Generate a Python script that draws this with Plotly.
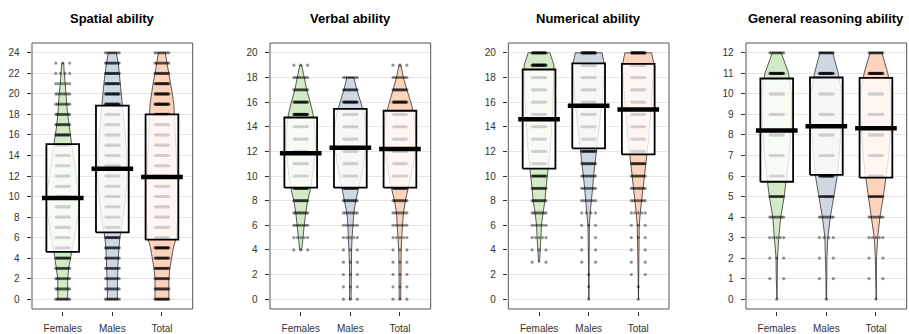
import numpy as np
import plotly.graph_objects as go

# ---------------- data ----------------
groups = ["Females", "Males", "Total"]
titles = ["Spatial ability", "Verbal ability", "Numerical ability", "General reasoning ability"]

# Spatial ability (scores 0-24)
spatial_start = [0, 0, 0]
spatial_density_females = [0.10, 0.10, 0.10, 0.12, 0.16, 0.19, 0.23, 0.27, 0.30, 0.32, 0.32, 0.30,
                           0.28, 0.25, 0.21, 0.18, 0.15, 0.12, 0.10, 0.08, 0.07, 0.05, 0.03, 0.02]
spatial_density_males = [0.10, 0.10, 0.10, 0.11, 0.12, 0.13, 0.15, 0.19, 0.22, 0.25, 0.27, 0.29, 0.30,
                         0.30, 0.29, 0.28, 0.26, 0.24, 0.22, 0.21, 0.19, 0.17, 0.15, 0.12, 0.08]
spatial_density_total = [0.14, 0.14, 0.14, 0.16, 0.19, 0.23, 0.29, 0.31, 0.32, 0.33, 0.33, 0.32, 0.31,
                         0.30, 0.29, 0.28, 0.27, 0.26, 0.25, 0.24, 0.21, 0.18, 0.14, 0.10, 0.07]
spatial_means = [9.85, 12.7, 11.9]
spatial_box_low = [4.6, 6.5, 5.8]
spatial_box_high = [15.1, 18.85, 18.0]
spatial_ticks = [0, 2, 4, 6, 8, 10, 12, 14, 16, 18, 20, 22, 24]

# Verbal ability (scores 0-20)
verbal_start = [4, 0, 0]
verbal_density_females = [0.02, 0.04, 0.07, 0.10, 0.14, 0.20, 0.24, 0.27, 0.29, 0.30, 0.28, 0.25,
                          0.19, 0.12, 0.07, 0.02]
verbal_density_males = [0.015, 0.015, 0.015, 0.02, 0.025, 0.035, 0.05, 0.07, 0.11, 0.17, 0.22, 0.27,
                        0.30, 0.32, 0.31, 0.28, 0.21, 0.13, 0.07]
verbal_density_total = [0.015, 0.015, 0.015, 0.02, 0.025, 0.035, 0.05, 0.07, 0.11, 0.17, 0.22, 0.27,
                        0.31, 0.32, 0.31, 0.28, 0.22, 0.14, 0.07, 0.02]
verbal_means = [11.85, 12.3, 12.2]
verbal_box_low = [9.05, 9.05, 9.05]
verbal_box_high = [14.75, 15.45, 15.3]
verbal_ticks = [0, 2, 4, 6, 8, 10, 12, 14, 16, 18, 20]

# Numerical ability (scores 0-20)
numerical_start = [3, 0, 0]
numerical_density_females = [0.01, 0.02, 0.04, 0.05, 0.08, 0.12, 0.14, 0.17, 0.20, 0.22, 0.24, 0.26,
                             0.27, 0.28, 0.29, 0.30, 0.30, 0.22]
numerical_density_males = [0.005, 0.005, 0.005, 0.007, 0.008, 0.01, 0.015, 0.03, 0.06, 0.08, 0.10,
                           0.13, 0.16, 0.19, 0.22, 0.25, 0.27, 0.29, 0.31, 0.32, 0.27]
numerical_density_total = [0.005, 0.005, 0.006, 0.008, 0.01, 0.015, 0.02, 0.04, 0.07, 0.09, 0.12,
                           0.15, 0.18, 0.21, 0.23, 0.25, 0.27, 0.29, 0.31, 0.32, 0.27]
numerical_means = [14.6, 15.7, 15.4]
numerical_box_low = [10.6, 12.25, 11.75]
numerical_box_high = [18.65, 19.15, 19.1]
numerical_ticks = [0, 2, 4, 6, 8, 10, 12, 14, 16, 18, 20]

# General reasoning ability (scores 0-12)
general_start = [0, 0, 0]
general_density_females = [0.005, 0.01, 0.015, 0.04, 0.08, 0.15, 0.20, 0.25, 0.28, 0.30, 0.30, 0.24, 0.09]
general_density_males = [0.005, 0.008, 0.012, 0.03, 0.08, 0.15, 0.22, 0.26, 0.29, 0.31, 0.31, 0.24, 0.13]
general_density_total = [0.005, 0.008, 0.012, 0.035, 0.08, 0.15, 0.21, 0.26, 0.29, 0.31, 0.31, 0.24, 0.12]
general_means = [8.22, 8.42, 8.33]
general_box_low = [5.72, 6.05, 5.92]
general_box_high = [10.75, 10.8, 10.78]
general_ticks = [0, 1, 2, 3, 4, 5, 6, 7, 8, 9, 10, 11, 12]

panels = [
    dict(start=spatial_start,
         dens=[spatial_density_females, spatial_density_males, spatial_density_total],
         means=spatial_means, lo=spatial_box_low, hi=spatial_box_high, ticks=spatial_ticks),
    dict(start=verbal_start,
         dens=[verbal_density_females, verbal_density_males, verbal_density_total],
         means=verbal_means, lo=verbal_box_low, hi=verbal_box_high, ticks=verbal_ticks),
    dict(start=numerical_start,
         dens=[numerical_density_females, numerical_density_males, numerical_density_total],
         means=numerical_means, lo=numerical_box_low, hi=numerical_box_high, ticks=numerical_ticks),
    dict(start=general_start,
         dens=[general_density_females, general_density_males, general_density_total],
         means=general_means, lo=general_box_low, hi=general_box_high, ticks=general_ticks),
]

# ---------------- style ----------------
W, H = 909, 334
fills = ["rgba(150,205,120,0.42)", "rgba(140,160,185,0.42)", "rgba(250,150,95,0.42)"]
panel_left = [32, 270, 508.3, 746]
panel_width = 160.7
plot_top, plot_bottom = 43, 309
font = "Arial, Liberation Sans, sans-serif"

fig = go.Figure()
layout = dict(width=W, height=H, autosize=False,
              margin=dict(l=0, r=0, t=0, b=0, pad=0, autoexpand=False),
              plot_bgcolor="white", paper_bgcolor="white", showlegend=False,
              font=dict(family=font, size=10, color="#333333"))
annotations = []
shapes = []

for p, pan in enumerate(panels):
    xa = "x" if p == 0 else f"x{p+1}"
    ya = "y" if p == 0 else f"y{p+1}"
    for g in range(3):
        c = g + 1
        dens = np.array(pan["dens"][g])
        vals = np.arange(pan["start"][g], pan["start"][g] + len(dens))
        # bean (violin)
        vx = np.concatenate([c + dens, (c - dens)[::-1], [c + dens[0]]])
        vy = np.concatenate([vals, vals[::-1], [vals[0]]])
        fig.add_trace(go.Scatter(x=vx, y=vy, mode="lines", fill="toself", fillcolor=fills[g],
                                 line=dict(color="rgba(30,30,30,0.9)", width=0.8),
                                 xaxis=xa, yaxis=ya, hoverinfo="skip"))
        # raw points
        px, py = [], []
        for v, d in zip(vals, dens):
            n = int(round(d * 100)) + 1
            xs = [c] if n == 1 else list(c + np.linspace(-0.14, 0.14, n))
            px += xs
            py += [v] * len(xs)
        fig.add_trace(go.Scatter(x=px, y=py, mode="markers",
                                 marker=dict(size=3.2, color="rgba(0,0,0,0.42)", line=dict(width=0)),
                                 xaxis=xa, yaxis=ya, hoverinfo="skip"))
        # inference box
        lo, hi = pan["lo"][g], pan["hi"][g]
        fig.add_trace(go.Scatter(x=[c - 0.33, c + 0.33, c + 0.33, c - 0.33, c - 0.33],
                                 y=[lo, lo, hi, hi, lo], mode="lines", fill="toself",
                                 fillcolor="rgba(255,255,255,0.8)",
                                 line=dict(color="black", width=1.8),
                                 xaxis=xa, yaxis=ya, hoverinfo="skip"))
        # mean line
        m = pan["means"][g]
        fig.add_trace(go.Scatter(x=[c - 0.42, c + 0.42], y=[m, m], mode="lines",
                                 line=dict(color="black", width=4.5),
                                 xaxis=xa, yaxis=ya, hoverinfo="skip"))

    ticks = pan["ticks"]
    ymin, ymax = ticks[0], ticks[-1]
    ext = 0.04 * (ymax - ymin)
    x0 = panel_left[p] / W
    x1 = (panel_left[p] + panel_width) / W
    y0 = (H - plot_bottom) / H
    y1 = (H - plot_top) / H
    suffix = "" if p == 0 else str(p + 1)
    layout["xaxis" + suffix] = dict(domain=[x0, x1], range=[0.38, 3.62], anchor="free",
                                    position=(H - plot_bottom - 1.5) / H,
                                    tickmode="array", tickvals=[1, 2, 3], ticktext=groups,
                                    ticks="outside", ticklen=4, tickwidth=1, tickcolor="#333",
                                    showline=False, showgrid=False, zeroline=False,
                                    tickfont=dict(size=10, color="#333"), ticklabelstandoff=4)
    layout["yaxis" + suffix] = dict(domain=[y0, y1], range=[ymin - ext, ymax + ext], anchor="free",
                                    position=(panel_left[p] - 1.5) / W,
                                    tickmode="array", tickvals=ticks,
                                    ticks="outside", ticklen=4, tickwidth=1, tickcolor="#333",
                                    showline=False, showgrid=True, gridcolor="#e6e6e6", gridwidth=1,
                                    zeroline=False, tickfont=dict(size=10, color="#333"),
                                    ticklabelstandoff=5)
    shapes.append(dict(type="rect", xref=f"{xa} domain", yref=f"{ya} domain",
                       x0=0, x1=1, y0=0, y1=1, line=dict(color="#555", width=1),
                       fillcolor="rgba(0,0,0,0)", layer="above"))
    annotations.append(dict(text=f"<b>{titles[p]}</b>", xref="paper", yref="paper",
                            x=(x0 + x1) / 2, y=(H - 19) / H, xanchor="center", yanchor="middle",
                            showarrow=False, font=dict(size=13, color="black", family=font)))

layout["annotations"] = annotations
layout["shapes"] = shapes
fig.update_layout(**layout)
fig.write_html("out.html", config={"displayModeBar": False},
               post_script="document.body.style.margin='0px';")
